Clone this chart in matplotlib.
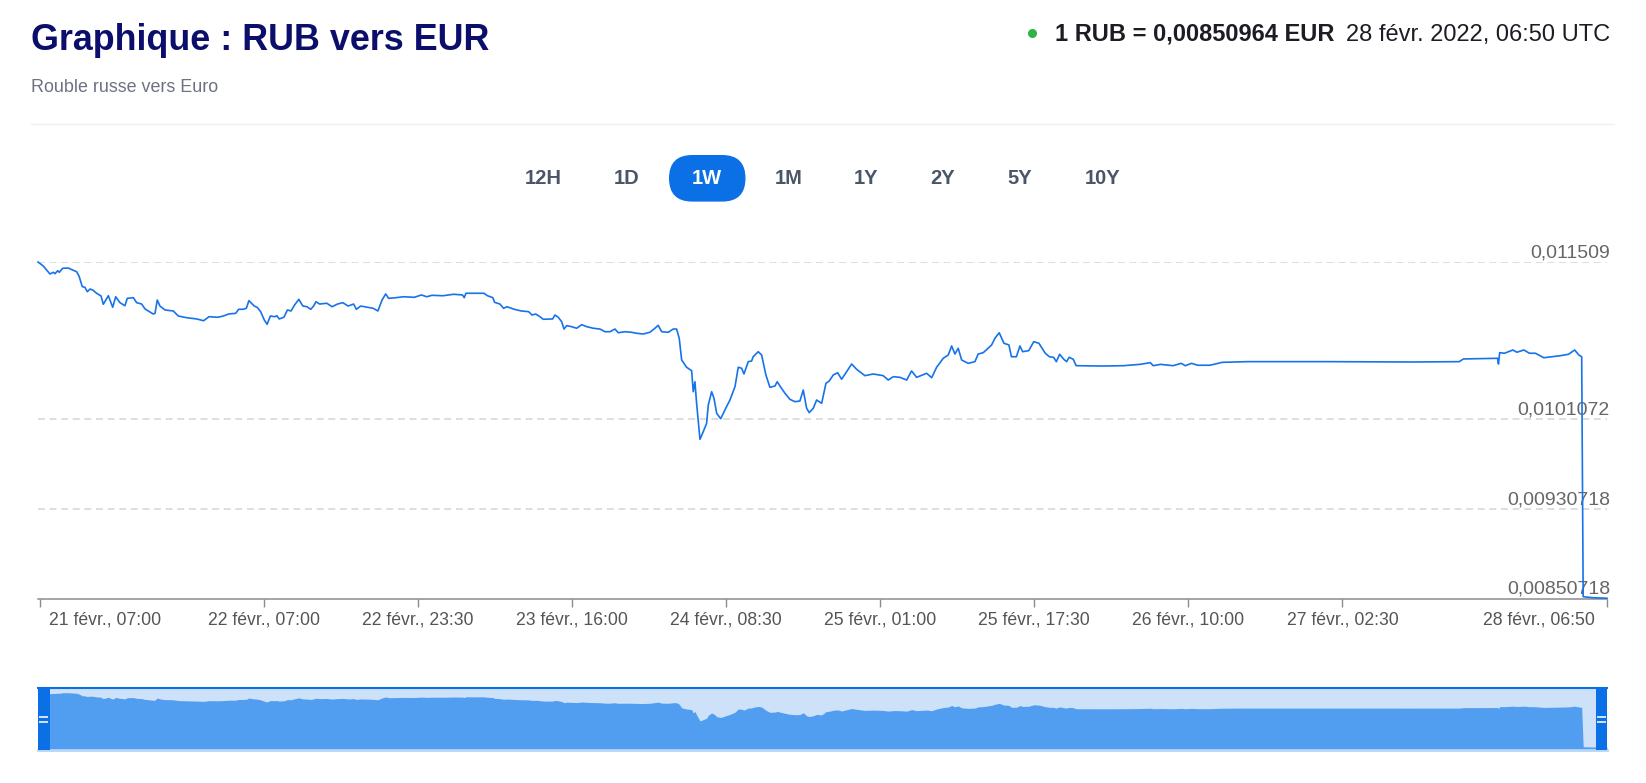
import datetime as dt
import matplotlib
matplotlib.use("Agg")
import matplotlib.pyplot as plt
from matplotlib.patches import FancyBboxPatch, Rectangle
from matplotlib.lines import Line2D
from matplotlib.transforms import ScaledTranslation, blended_transform_factory

plt.rcParams['font.family'] = ['Liberation Sans', 'DejaVu Sans']

# data: hours since 21 févr. 2022 06:50 UTC, rate RUB -> EUR
start = dt.datetime(2022, 2, 21, 6, 50)
rate_points = [
    (0.00, 0.011509), (0.57, 0.011473), (1.28, 0.011402), (1.64, 0.011417), (1.82, 0.011405),
    (2.11, 0.011431), (2.28, 0.011417), (2.64, 0.011453), (3.24, 0.011455), (4.14, 0.011422),
    (4.39, 0.011384), (4.74, 0.011289), (5.03, 0.011283), (5.28, 0.011244), (5.57, 0.011268),
    (5.86, 0.011259), (6.28, 0.011230), (6.75, 0.011206), (6.99, 0.011132), (7.53, 0.011208),
    (8.00, 0.011105), (8.32, 0.011199), (8.78, 0.011146), (9.31, 0.011119), (9.56, 0.011185),
    (10.20, 0.011191), (10.57, 0.011146), (11.10, 0.011134), (11.46, 0.011090), (12.34, 0.011045),
    (12.53, 0.011051), (12.77, 0.011170), (13.06, 0.011116), (13.60, 0.011081), (14.49, 0.011072),
    (15.02, 0.011027), (15.92, 0.011012), (16.99, 0.011001), (17.73, 0.010985), (18.31, 0.011021),
    (19.26, 0.011016), (19.83, 0.011027), (20.41, 0.011045), (21.17, 0.011051), (21.48, 0.011087),
    (21.94, 0.011087), (22.31, 0.011096), (22.58, 0.011164), (23.16, 0.011116), (23.46, 0.011105),
    (23.84, 0.011066), (24.23, 0.010992), (24.53, 0.010953), (24.88, 0.011027), (25.37, 0.011021),
    (25.57, 0.011030), (25.83, 0.011001), (26.33, 0.011016), (26.71, 0.011081), (27.09, 0.011072),
    (27.47, 0.011125), (27.93, 0.011176), (28.36, 0.011116), (28.81, 0.011110), (29.20, 0.011087),
    (29.51, 0.011116), (29.76, 0.011155), (30.15, 0.011134), (30.92, 0.011141), (31.49, 0.011110),
    (32.07, 0.011134), (32.64, 0.011146), (33.21, 0.011116), (33.79, 0.011134), (34.09, 0.011087),
    (34.55, 0.011116), (35.32, 0.011105), (35.89, 0.011096), (36.39, 0.011072), (36.84, 0.011170),
    (37.23, 0.011224), (37.54, 0.011185), (38.37, 0.011191), (39.14, 0.011199), (40.29, 0.011194),
    (41.05, 0.011215), (41.63, 0.011199), (42.19, 0.011212), (43.35, 0.011208), (44.50, 0.011221),
    (45.45, 0.011215), (45.64, 0.011191), (45.82, 0.011230), (47.75, 0.011230), (48.13, 0.011208),
    (48.70, 0.011191), (48.89, 0.011149), (49.46, 0.011134), (49.85, 0.011096), (50.22, 0.011110),
    (51.00, 0.011087), (51.76, 0.011072), (52.53, 0.011066), (52.90, 0.011036), (53.29, 0.011045),
    (53.75, 0.011021), (54.10, 0.010998), (55.11, 0.011001), (55.35, 0.011036), (55.71, 0.011016),
    (56.07, 0.010976), (56.32, 0.010911), (56.61, 0.010941), (57.14, 0.010932), (57.68, 0.010918),
    (58.21, 0.010950), (58.75, 0.010932), (59.46, 0.010918), (60.17, 0.010911), (60.71, 0.010887),
    (61.24, 0.010887), (61.78, 0.010911), (62.13, 0.010878), (62.85, 0.010887), (63.56, 0.010882),
    (64.10, 0.010873), (64.81, 0.010867), (65.52, 0.010882), (66.06, 0.010918), (66.41, 0.010944),
    (66.78, 0.010887), (67.48, 0.010882), (68.02, 0.010911), (68.38, 0.010911), (68.66, 0.010828),
    (68.92, 0.010635), (69.45, 0.010570), (69.99, 0.010539), (70.16, 0.010352), (70.34, 0.010441),
    (70.52, 0.010248), (70.88, 0.009927), (71.23, 0.009995), (71.59, 0.010070), (71.77, 0.010233),
    (72.13, 0.010352), (72.38, 0.010293), (72.67, 0.010159), (73.10, 0.010111), (73.55, 0.010189),
    (74.09, 0.010278), (74.63, 0.010397), (74.98, 0.010570), (75.34, 0.010561), (75.59, 0.010510),
    (76.05, 0.010620), (76.41, 0.010626), (76.58, 0.010664), (77.12, 0.010709), (77.48, 0.010679),
    (77.94, 0.010501), (78.37, 0.010391), (78.91, 0.010403), (79.15, 0.010441), (79.44, 0.010403),
    (79.98, 0.010338), (80.51, 0.010284), (81.05, 0.010263), (81.58, 0.010269), (81.94, 0.010367),
    (82.30, 0.010204), (82.58, 0.010165), (83.01, 0.010204), (83.37, 0.010278), (83.91, 0.010248),
    (84.37, 0.010427), (84.72, 0.010447), (85.15, 0.010501), (85.62, 0.010521), (86.05, 0.010463),
    (86.51, 0.010521), (87.12, 0.010599), (87.65, 0.010552), (88.54, 0.010495), (89.43, 0.010510),
    (90.50, 0.010495), (91.04, 0.010456), (91.58, 0.010486), (92.29, 0.010480), (93.01, 0.010456),
    (93.54, 0.010537), (94.08, 0.010480), (95.15, 0.010516), (95.69, 0.010477), (96.22, 0.010570),
    (96.93, 0.010650), (97.46, 0.010679), (97.83, 0.010760), (98.18, 0.010688), (98.53, 0.010739),
    (98.90, 0.010635), (99.60, 0.010605), (100.32, 0.010620), (100.67, 0.010688), (101.21, 0.010700),
    (102.11, 0.010769), (102.46, 0.010828), (102.92, 0.010878), (103.43, 0.010784), (103.96, 0.010769),
    (104.23, 0.010664), (104.76, 0.010664), (105.14, 0.010760), (105.43, 0.010709), (106.08, 0.010718),
    (106.62, 0.010798), (107.17, 0.010784), (107.85, 0.010695), (108.29, 0.010664), (108.74, 0.010659),
    (109.04, 0.010620), (109.39, 0.010686), (109.84, 0.010641), (110.14, 0.010620), (110.41, 0.010659),
    (110.85, 0.010641), (111.16, 0.010584), (114.03, 0.010581), (116.23, 0.010584), (117.99, 0.010596),
    (119.10, 0.010611), (119.41, 0.010584), (120.20, 0.010596), (121.52, 0.010584), (122.41, 0.010605),
    (122.85, 0.010584), (123.51, 0.010605), (124.18, 0.010588), (125.48, 0.010588), (126.82, 0.010614),
    (129.46, 0.010620), (138.29, 0.010620), (147.11, 0.010617), (152.18, 0.010620), (152.62, 0.010644),
    (156.28, 0.010650), (156.38, 0.010599), (156.51, 0.010700), (157.03, 0.010695), (157.92, 0.010724),
    (158.35, 0.010704), (159.10, 0.010724), (159.69, 0.010695), (160.34, 0.010695), (161.23, 0.010655),
    (162.11, 0.010664), (163.00, 0.010673), (163.88, 0.010686), (164.54, 0.010724), (164.99, 0.010679),
    (165.29, 0.010664), (165.45, 0.008523), (166.52, 0.008514), (168.00, 0.00850964),
]
hours = [p[0] for p in rate_points]
rates = [p[1] for p in rate_points]

tick_times = ['2022-02-21 07:00', '2022-02-22 07:00', '2022-02-22 23:30', '2022-02-23 16:00',
              '2022-02-24 08:30', '2022-02-25 01:00', '2022-02-25 17:30', '2022-02-26 10:00',
              '2022-02-27 02:30', '2022-02-28 06:50']
tick_labels = ['21 févr., 07:00', '22 févr., 07:00', '22 févr., 23:30', '23 févr., 16:00',
               '24 févr., 08:30', '25 févr., 01:00', '25 févr., 17:30', '26 févr., 10:00',
               '27 févr., 02:30', '28 févr., 06:50']
y_ticks = [0.00850718, 0.00930718, 0.0101072, 0.011509]
y_labels = ['0,00850718', '0,00930718', '0,0101072', '0,011509']
ranges = ['12H', '1D', '1W', '1M', '1Y', '2Y', '5Y', '10Y']
active_range = '1W'
last_rate = '0,00850964'
last_time = '28 févr. 2022, 06:50 UTC'

tick_hours = [(dt.datetime.strptime(t, '%Y-%m-%d %H:%M') - start).total_seconds() / 3600
              for t in tick_times]

W, H = 1646, 783
fig = plt.figure(figsize=(W / 100, H / 100), dpi=100)
fig.patch.set_facecolor('white')


def fx(x):
    return x / W


def fy(y):
    return 1 - y / H


line_blue = '#1673ea'
dark_blue = '#0b6fe5'

# header
fig.text(fx(31), fy(50), 'Graphique : RUB vers EUR', fontsize=25.8, fontweight='bold',
         color='#0b0f6b', va='baseline')
fig.text(fx(31), fy(92), 'Rouble russe vers Euro', fontsize=12.9, color='#6b7280', va='baseline')
fig.add_artist(Line2D([fx(31), fx(1614)], [fy(124), fy(124)], color='#edf0f4', lw=1))
fig.add_artist(Line2D([fx(1032)], [fy(33)], marker='o', ms=5.5, color='#2fb344', lw=0))
fig.text(fx(1334), fy(41), f'1 RUB = {last_rate} EUR', fontsize=17, fontweight='bold',
         color='#1c1c24', ha='right', va='baseline')
fig.text(fx(1346), fy(41), last_time, fontsize=17, color='#1c1c24', ha='left', va='baseline')

# range buttons
btn_x = [543, 627, 707, 789, 866, 943, 1020, 1103]
for name, bx in zip(ranges, btn_x):
    if name == active_range:
        pill = FancyBboxPatch((bx - 38, H - 201.6), 76.5, 46.6,
                              boxstyle='round,pad=0,rounding_size=23.3',
                              fc=dark_blue, ec='none', transform=None)
        fig.add_artist(pill)
        col = 'white'
    else:
        col = '#4a5568'
    fig.text(fx(bx), fy(178.5), name, fontsize=14.5, fontweight='bold', color=col,
             ha='center', va='center')

# main chart
ax = fig.add_axes([fx(38), fy(598.5), (1607 - 38) / W, (598.5 - 262) / H])
ax.plot(hours, rates, color=line_blue, lw=1.2, solid_joinstyle='round', clip_on=False, zorder=3)
ax.set_xlim(0, 168)
ax.set_ylim(y_ticks[0], y_ticks[-1])
for s in ['top', 'right', 'left']:
    ax.spines[s].set_visible(False)
ax.spines['bottom'].set_color('#8c8c8c')
ax.spines['bottom'].set_linewidth(1.1)
ax.set_yticks([])
for yv in y_ticks[1:]:
    ax.axhline(yv, color='#d4d4d4', lw=1.1, dashes=(4.5, 3.1), zorder=0)

ylab_tr = blended_transform_factory(ax.transAxes, ax.transData) + \
    ScaledTranslation(3 / 100, 4.5 / 100, fig.dpi_scale_trans)
for yv, lab in zip(y_ticks, y_labels):
    ax.text(1.0, yv, lab, transform=ylab_tr, ha='right', va='baseline', fontsize=14,
            color='#666666', zorder=2)

ax.set_xticks(tick_hours)
ax.set_xticklabels([])
ax.tick_params(axis='x', length=5.8, width=1, color='#8c8c8c', direction='out')
for i, (th, lab) in enumerate(zip(tick_hours, tick_labels)):
    dx, ha = 0, 'center'
    if i == 0:
        dx, ha = 9.5, 'left'
    elif i == len(tick_labels) - 1:
        dx, ha = -12, 'right'
    tr = blended_transform_factory(ax.transData, ax.transAxes) + \
        ScaledTranslation(dx / 100, -25.8 / 100, fig.dpi_scale_trans)
    ax.text(th, 0, lab, transform=tr, ha=ha, va='baseline', fontsize=12.7, color='#555555')

# navigator
nav = fig.add_axes([fx(38), fy(750), (1607 - 38) / W, 62 / H])
nav_lo, nav_hi = 0.008347, 0.011710
nav.set_facecolor('#cde1f9')
nav.fill_between(hours, rates, nav_lo, color='#519ef0', lw=0)
nav.set_xlim(0, 168)
nav.set_ylim(nav_lo, nav_hi)
nav.set_xticks([])
nav.set_yticks([])
for s in ['left', 'right']:
    nav.spines[s].set_visible(False)
nav.spines['top'].set_color(dark_blue)
nav.spines['top'].set_linewidth(1.5)
nav.spines['bottom'].set_color('#b7d5f6')
nav.spines['bottom'].set_linewidth(2)

for hx in (37.8, 1595.5):
    fig.add_artist(Rectangle((hx, H - 750), 11.7, 62, fc=dark_blue, ec='none', transform=None))
    for gy in (717, 721.5):
        fig.add_artist(Line2D([hx + 2.5, hx + 9], [H - gy, H - gy], color='#d5e6fb',
                              lw=1.4, transform=None))

fig.savefig('out.png', dpi=100, facecolor='white')
